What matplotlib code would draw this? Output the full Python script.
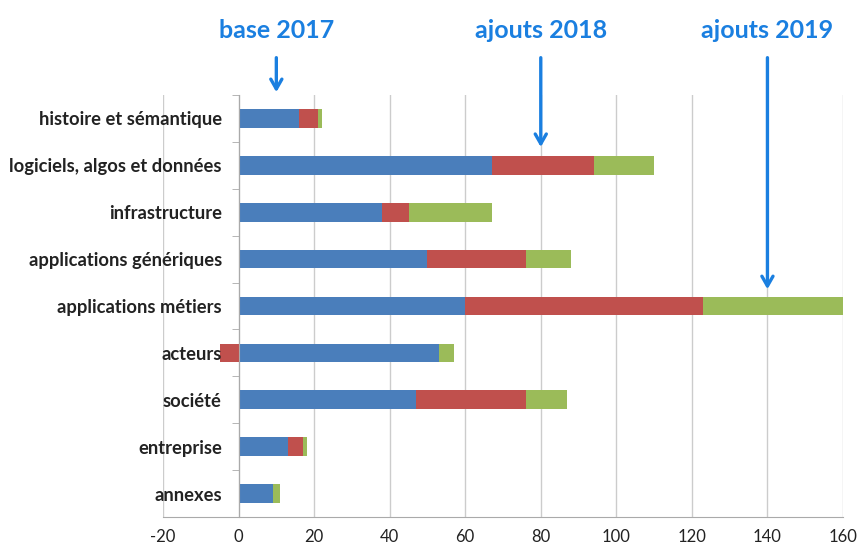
import matplotlib.pyplot as plt
import numpy as np

categories = ["histoire et sémantique", "logiciels, algos et données", "infrastructure",
              "applications génériques", "applications métiers", "acteurs",
              "société", "entreprise", "annexes"]
base_2017 = [16, 67, 38, 50, 60, 53, 47, 13, 9]
ajouts_2018 = [5, 27, 7, 26, 63, -5, 29, 4, 0]
ajouts_2019 = [1, 16, 22, 12, 37, 4, 11, 1, 2]

xticks = [-20, 0, 20, 40, 60, 80, 100, 120, 140, 160]

# annotations: label, x value of arrow, tip height (axes fraction)
annotations = [("base 2017", 10, 1.0), ("ajouts 2018", 80, 0.87), ("ajouts 2019", 140, 0.533)]

colors = ["#4a7ebb", "#c0504d", "#9bbb59"]
label_font = "Lato"

fig = plt.figure(figsize=(8.62, 5.5), dpi=100)
ax = fig.add_axes([163 / 862, 1 - 517 / 550, 680 / 862, 422 / 550])

# spine position first: moving it resets the ticks
ax.spines["left"].set_position(("data", 0))
ax.spines["left"].set_color("#aaaaaa")
ax.spines["bottom"].set_color("#aaaaaa")
ax.spines["top"].set_visible(False)
ax.spines["right"].set_visible(False)

y = np.arange(len(categories))
pos = np.zeros(len(categories))
neg = np.zeros(len(categories))
for vals, col in zip([base_2017, ajouts_2018, ajouts_2019], colors):
    vals = np.array(vals, dtype=float)
    left = np.where(vals >= 0, pos, neg)
    ax.barh(y, vals, left=left, height=0.4, color=col, zorder=2)
    pos = pos + np.clip(vals, 0, None)
    neg = neg + np.clip(vals, None, 0)

# vertical gridlines under the bars
for t in xticks:
    ax.axvline(t, color="#cccccc", lw=1, zorder=0.5)

ax.set_xlim(-20, 160)
ax.set_ylim(len(categories) - 0.5, -0.5)
ax.set_xticks(xticks)
ax.set_xticklabels([str(t) for t in xticks], fontsize=12, family=label_font, color="#222222")
ax.tick_params(axis="x", length=0, pad=9)

ax.set_yticks(y)
ax.set_yticklabels(categories, fontsize=13.2, family=label_font, weight="bold", color="#222222")
ax.set_yticks(np.arange(len(categories) + 1) - 0.5, minor=True)
ax.tick_params(axis="y", which="major", length=0, pad=12)
ax.tick_params(axis="y", which="minor", length=5, color="#aaaaaa", direction="out")
ax.set_axisbelow(False)

blue = "#1a7fe0"
for label, xv, tip in annotations:
    ax.text(xv, 1.154, label, transform=ax.get_xaxis_transform(), ha="center", va="center",
            fontsize=18, weight="bold", color=blue, family=label_font, clip_on=False)
    ax.annotate("", xy=(xv, tip), xytext=(xv, 1.095), xycoords=("data", "axes fraction"),
                textcoords=("data", "axes fraction"),
                arrowprops=dict(arrowstyle="->,head_length=0.7,head_width=0.4", color=blue, lw=2.4),
                annotation_clip=False, zorder=5)

fig.savefig("out.png", dpi=100)
